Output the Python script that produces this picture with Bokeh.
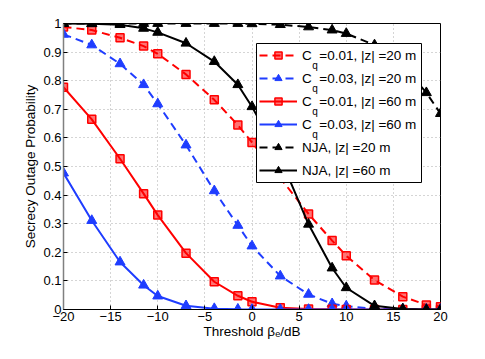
from bokeh.plotting import figure
from bokeh.models import Range1d, FixedTicker, Legend, LegendItem, Label, BoxAnnotation
from bokeh.embed import file_html
from bokeh.resources import INLINE

# ---- data ----
x_db = [-20, -17, -14, -11.5, -10, -7, -4, -1.5, 0, 3, 6, 8.5, 10, 13, 16, 18.5, 20]

cq001_z20 = [0.988, 0.977, 0.950, 0.921, 0.894, 0.822, 0.733, 0.645, 0.584, 0.460,
             0.334, 0.241, 0.188, 0.103, 0.045, 0.016, 0.010]
cq003_z20 = [0.962, 0.925, 0.859, 0.786, 0.719, 0.575, 0.415, 0.294, 0.222, 0.117,
             0.053, 0.020, 0.012, 0.002, 0.001, 0.0, 0.0]
cq001_z60 = [0.777, 0.665, 0.527, 0.405, 0.330, 0.197, 0.097, 0.048, 0.027, 0.006,
             0.002, 0.001, 0.0, 0.0, 0.0, 0.0, 0.0]
cq003_z60 = [0.477, 0.311, 0.166, 0.085, 0.047, 0.013, 0.003, 0.001, 0.0, 0.0,
             0.0, 0.0, 0.0, 0.0, 0.0, 0.0, 0.0]
nja_z20 = [1.0, 1.0, 1.0, 1.0, 1.0, 1.0, 1.0, 1.0, 0.999, 0.996,
           0.988, 0.977, 0.965, 0.925, 0.855, 0.758, 0.685]
nja_z60 = [1.0, 0.999, 0.996, 0.983, 0.969, 0.931, 0.867, 0.786, 0.709, 0.530,
           0.298, 0.145, 0.076, 0.013, 0.002, 0.0, 0.0]

x_ticks = [-20, -15, -10, -5, 0, 5, 10, 15, 20]
x_tick_labels = ["\u221220", "\u221215", "\u221210", "\u22125", "0", "5", "10", "15", "20"]
y_ticks = [0, 0.1, 0.2, 0.3, 0.4, 0.5, 0.6, 0.7, 0.8, 0.9, 1]
y_tick_labels = ["0", "0.1", "0.2", "0.3", "0.4", "0.5", "0.6", "0.7", "0.8", "0.9", "1"]

legend_labels = ["C  =0.01, |z| =20 m", "C  =0.03, |z| =20 m",
                 "C  =0.01, |z| =60 m", "C  =0.03, |z| =60 m",
                 "NJA, |z| =20 m", "NJA, |z| =60 m"]
legend_subscripts = ["q", "q", "q", "q", "", ""]

x_label = "Threshold \u03b2\u2091/dB"
y_label = "Secrecy Outage Probability"

FONT = "Liberation Sans"
RED = "#ff0000"
BLUE = "#1f3dff"
BLACK = "#000000"

series = [
    (cq001_z20, RED, "dashed", "square"),
    (cq003_z20, BLUE, "dashed", "triangle"),
    (cq001_z60, RED, "solid", "square"),
    (cq003_z60, BLUE, "solid", "triangle"),
    (nja_z20, BLACK, "dashed", "triangle"),
    (nja_z60, BLACK, "solid", "triangle"),
]

p = figure(frame_width=377, frame_height=286, output_backend="svg", toolbar_location=None,
           x_range=Range1d(-20, 20), y_range=Range1d(0, 1),
           min_border_left=63, min_border_right=29, min_border_top=23, min_border_bottom=34)

p.background_fill_color = "white"
p.border_fill_color = "white"
p.outline_line_color = "black"
p.outline_line_width = 1

for ax in (p.xaxis[0], p.yaxis[0]):
    ax.major_tick_in = 4
    ax.major_tick_out = 0
    ax.minor_tick_in = 0
    ax.minor_tick_out = 0
    ax.axis_line_color = "black"
    ax.major_tick_line_color = "black"
    ax.major_label_text_font = FONT
    ax.major_label_text_font_size = "13px"
    ax.major_label_text_color = "black"
    ax.major_label_standoff = 2
    ax.axis_label_text_font = FONT
    ax.axis_label_text_font_size = "13.5px"
    ax.axis_label_text_font_style = "normal"
    ax.axis_label_text_color = "black"

p.yaxis.axis_line_color = "#808080"
p.yaxis.axis_line_width = 1.5

p.xaxis.ticker = FixedTicker(ticks=x_ticks)
p.yaxis.ticker = FixedTicker(ticks=y_ticks)
p.xaxis.major_label_overrides = dict(zip(x_ticks, x_tick_labels))
p.yaxis.major_label_overrides = dict(zip(y_ticks, y_tick_labels))

p.yaxis.axis_label = y_label
p.yaxis.axis_label_standoff = 2
p.xaxis.axis_label = x_label
p.xaxis.axis_label_standoff = 0

for g in (p.xgrid[0], p.ygrid[0]):
    g.grid_line_color = "#aaaaaa"
    g.grid_line_dash = "1 3"
    g.grid_line_width = 1

items = []
for (vals, color, dash, marker), lab in zip(series, legend_labels):
    ld = "8 5" if dash == "dashed" else "solid"
    r1 = p.line(x_db, vals, line_color=color, line_width=2, line_dash=ld)
    if marker == "square":
        r2 = p.scatter(x_db, vals, marker="square", size=8, fill_color=color, fill_alpha=0.55,
                       line_color=color, line_width=1.5)
    else:
        r2 = p.scatter(x_db, vals, marker="triangle", size=10, fill_color=color,
                       line_color=color, line_width=1)
    items.append(LegendItem(label=lab, renderers=[r1, r2]))

# legend layout (screen pixels, relative to frame bottom-left)
LEG_X, LEG_Y = 193, 127
LEG_PAD, LEG_ROW, LEG_SP, LEG_GW, LEG_STANDOFF, LEG_LW = 3, 18, 5, 38, 5, 116
n_rows = len(legend_labels)
leg_h = 2 * LEG_PAD + n_rows * LEG_ROW + (n_rows - 1) * LEG_SP
leg_w = 2 * LEG_PAD + LEG_GW + LEG_STANDOFF + LEG_LW

# white box behind the (transparent) legend
p.add_layout(BoxAnnotation(left=LEG_X, right=LEG_X + leg_w, bottom=LEG_Y, top=LEG_Y + leg_h,
                           left_units="screen", right_units="screen",
                           bottom_units="screen", top_units="screen",
                           fill_color="white", fill_alpha=1,
                           line_color="black", line_width=1, line_alpha=1))

legend = Legend(items=items, location=(LEG_X, LEG_Y),
                glyph_width=LEG_GW, glyph_height=LEG_ROW, label_height=LEG_ROW,
                label_width=LEG_LW,
                label_standoff=LEG_STANDOFF, padding=LEG_PAD, spacing=LEG_SP, margin=0,
                border_line_alpha=0, background_fill_alpha=0,
                label_text_font=FONT, label_text_font_size="13.5px",
                label_text_color="black")
p.add_layout(legend)

# subscripts "q" in legend labels
leg_top = LEG_Y + leg_h
sub_x = LEG_X + LEG_PAD + LEG_GW + LEG_STANDOFF + 0.722 * 13.5
for i, sub in enumerate(legend_subscripts):
    if not sub:
        continue
    row_center = leg_top - LEG_PAD - LEG_ROW / 2 - i * (LEG_ROW + LEG_SP)
    p.add_layout(Label(x=sub_x, y=row_center - 10, x_units="screen", y_units="screen",
                       text=sub, text_font=FONT, text_font_size="10px",
                       text_baseline="alphabetic", text_color="black"))

open("out.html", "w").write(file_html(p, INLINE))
